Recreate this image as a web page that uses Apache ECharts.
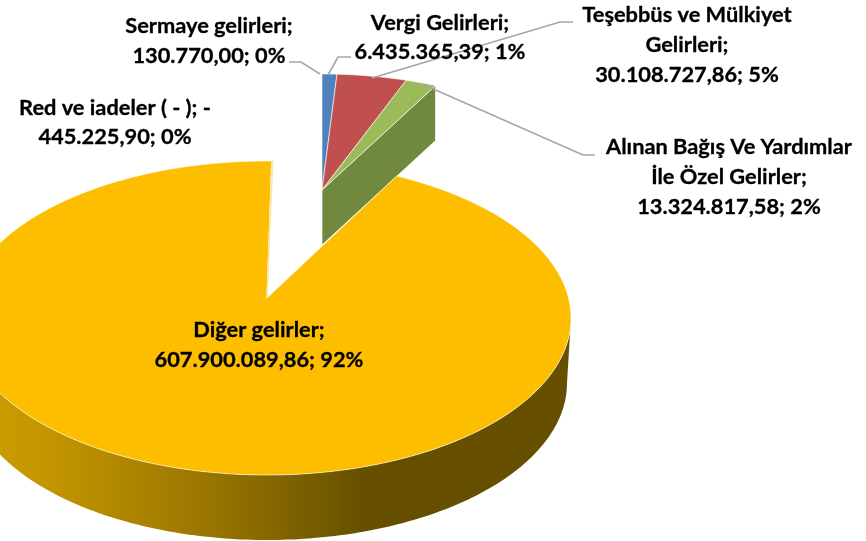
<!DOCTYPE html>
<html><head><meta charset="utf-8">
<style>html,body{margin:0;padding:0;background:#fff}#c{width:866px;height:541px}</style>
<script src="https://cdn.jsdelivr.net/npm/echarts@6/dist/echarts.min.js"></script>
</head><body><div id="c"></div>
<script>
const categories = ['Vergi Gelirleri','Teşebbüs ve Mülkiyet Gelirleri','Alınan Bağış Ve Yardımlar İle Özel Gelirler','Diğer gelirler','Sermaye gelirleri','Red ve iadeler ( - )'];
const values = [6435365.39, 30108727.86, 13324817.58, 607900089.86, 130770.00, -445225.90];
const labelLines = [
  ['Vergi Gelirleri;','6.435.365,39; 1%'],
  ['Teşebbüs ve Mülkiyet','Gelirleri;','30.108.727,86; 5%'],
  ['Alınan Bağış Ve Yardımlar','İle Özel Gelirler;','13.324.817,58; 2%'],
  ['Diğer gelirler;','607.900.089,86; 92%'],
  ['Sermaye gelirleri;','130.770,00; 0%'],
  ['Red ve iadeler ( - ); -','445.225,90; 0%']
];
const topColors = ['#4f81bd','#c0504d','#9bbb59','#fdbe00','#f0d890','#f7e3a0'];
const wallColors = ['#3d6591','#95403d','#71893f','#665000','#665000','#665000'];

// layout (not data)
const FONT = 'Lato,"Open Sans",sans-serif';
const FS = 21.8;
const D = 0.127;
const back = {ax:322, ay:190, cx:322, cy:207, a:278, b:133, rot:0, wall:55};
const main = {ax:267, ay:298, cx:267, cy:318, a:304, b:157, rot:1.3,
              bcx:267, bcy:383, ba:300, bb:157};
const labelPos = [[440,23,29],[687,15,30],[729,147,30],[259,330,30],[209,26,30],[115,108,29]];
const leaders = [
  [[351,57],[338,57],[328,75]],
  [[573,22],[560,22],[372,78]],
  [[595,155],[583,155],[422,84]],
  null,
  [[289,62],[301,62],[320,74]],
  null
];

const total = values.reduce((s,v)=>s+Math.abs(v),0);
const rad = d => d*Math.PI/180;
// Map a true pie angle to a point on the perspective ellipse.
function rim(g, deg){
  const t = rad(deg + g.rot), u = Math.sin(t), v = Math.cos(t);
  const k = 1 + D*v;
  const vp = (v + D)/k, up = u*Math.sqrt(1-D*D)/k;
  return [g.cx + g.a*up, g.cy - g.b*vp];
}
function sectorPoints(g, from, to){
  const pts = [[g.ax,g.ay]];
  const n = Math.max(2, Math.ceil((to-from)/0.75));
  for(let i=0;i<=n;i++) pts.push(rim(g, from+(to-from)*i/n));
  return pts;
}
function ell(cx,cy,a,b,tDeg){const t=rad(tDeg);return [cx+a*Math.sin(t),cy-b*Math.cos(t)];}

const starts = []; let acc = 0;
values.forEach(v=>{starts.push(acc); acc += Math.abs(v)/total*360;});

function renderItem(params, api){
  const i = params.dataIndex;
  const from = starts[i], to = from + Math.abs(api.value(0))/total*360;
  const isBack = i < 3;
  const g = isBack ? back : main;
  const children = [];
  if(i===2){ // visible cut face of the pulled-out wedge group
    const p0=[g.ax,g.ay], p1=rim(g,to);
    children.push({type:'polygon',z2:2,shape:{points:[p0,p1,[p1[0],p1[1]+g.wall],[p0[0],p0[1]+g.wall]]},
      style:{fill:wallColors[i],stroke:'rgba(255,255,255,0.7)',lineWidth:1}});
  }
  if(i===3){ // outer wall of the large slice
    const pts=[];
    for(let t=90;t<=270;t+=1) pts.push(ell(g.cx,g.cy,g.a,g.b,t));
    for(let t=270;t>=90;t-=1) pts.push(ell(g.bcx,g.bcy,g.ba,g.bb,t));
    children.push({type:'polygon',z2:1,shape:{points:pts},
      style:{fill:new echarts.graphic.LinearGradient(0,0,1,0,[
        {offset:0,color:'#cf9f00'},{offset:0.15,color:'#c29400'},{offset:0.4,color:'#9a7600'},{offset:0.66,color:wallColors[3]},{offset:1,color:wallColors[3]}]),
        stroke:'none'}});
  }
  children.push({type:'polygon',z2:i>3?4:3,shape:{points:sectorPoints(g,from,to)},
    style:{fill:topColors[i],stroke:i>3?'#f7e9b0':'rgba(255,255,255,0.75)',lineWidth:i>3?1:0.8,lineJoin:'round'}});
  if(leaders[i]) children.push({type:'polyline',z2:5,shape:{points:leaders[i]},
    style:{fill:'none',stroke:'#a6a6a6',lineWidth:1.7}});
  const lp = labelPos[i];
  labelLines[i].forEach((line,k)=>children.push({type:'text',z2:6,
    style:{x:lp[0],y:lp[1]+k*lp[2],text:line,align:'center',verticalAlign:'middle',
      font:'bold '+FS+'px '+FONT,fill:'#000',stroke:'#000',lineWidth:0.3}}));
  return {type:'group',children};
}

const chart = echarts.init(document.getElementById('c'),null,{renderer:'canvas'});
chart.setOption({
  animation:false,
  backgroundColor:'#fff',
  series:[{
    type:'custom',coordinateSystem:'none',renderItem,clip:false,silent:true,
    data:categories.map((name,i)=>({name,value:[values[i]]})),
    encode:{value:0}
  }]
});
</script></body></html>
